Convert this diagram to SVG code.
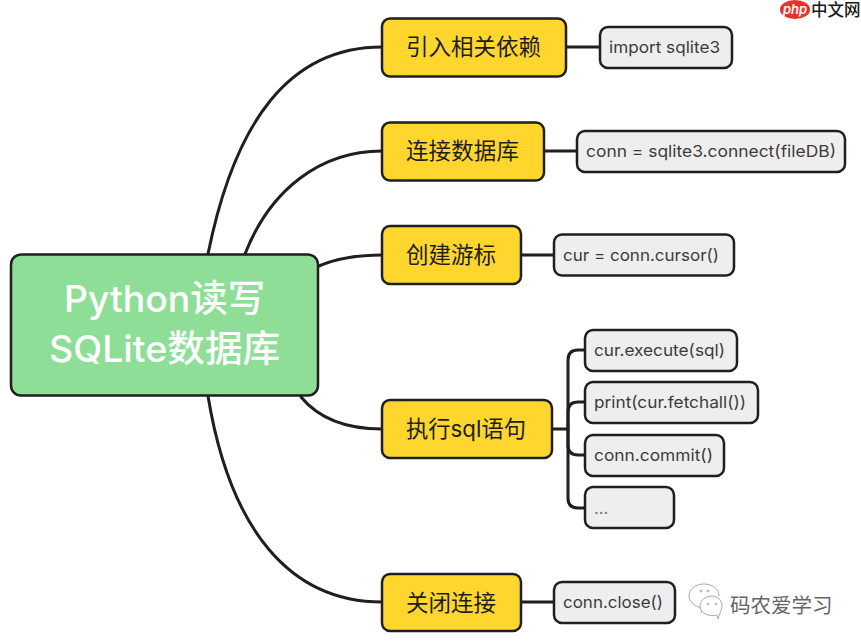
<svg xmlns="http://www.w3.org/2000/svg" width="861" height="644" viewBox="0 0 861 644">
<style>
text{font-family:"Inter","Noto Sans CJK SC",sans-serif}
.c{fill:none;stroke:#1f1f1f;stroke-width:3;stroke-linecap:round}
.r{fill:#8fde98;stroke:#1f1f1f;stroke-width:2.5}
.y{fill:#ffd62e;stroke:#1f1f1f;stroke-width:2.5}
.g{fill:#eeeeee;stroke:#1f1f1f;stroke-width:2.5}
.rt{font-size:37px;fill:#fff;font-weight:500}
.yt{font-size:22.500px;fill:#1d1d1d}
.gt{font-size:16.500px;fill:#3c3c3c}
</style>
<rect width="861" height="644" fill="#fff"/>
<g id="connectors">
<path class="c" d="M208 254C235 120 290 47 382 47"/>
<path class="c" d="M245 254C270 190 320 151 382 151"/>
<path class="c" d="M319 266C340 257 360 255 382 255"/>
<path class="c" d="M301 397C320 420 350 429 382 429"/>
<path class="c" d="M208 396C230 530 290 602 382 602"/>
<path class="c" d="M566 47H600"/>
<path class="c" d="M544 151H577"/>
<path class="c" d="M521 255H554"/>
<path class="c" d="M521 602H554"/>
<path class="c" d="M552 429H568"/>
<path class="c" d="M585 350H578Q568 350 568 360V498Q568 508 578 508H585"/>
<path class="c" d="M585 402H578Q568 402 568 412V445Q568 455 578 455H585"/>
</g>
<g id="root"><rect class="r" x="11" y="254.500" width="307" height="141" rx="10"/><text class="rt" x="64" y="312" textLength="201" lengthAdjust="spacingAndGlyphs">Python读写</text><text class="rt" x="49" y="362" textLength="231" lengthAdjust="spacingAndGlyphs">SQLite数据库</text></g>
<g id="n1"><rect class="y" x="382" y="18.500" width="184" height="58" rx="8"/><text class="yt" x="406" y="55" textLength="135">引入相关依赖</text></g>
<g id="n2"><rect class="y" x="382" y="122.500" width="162" height="58" rx="8"/><text class="yt" x="406" y="159" textLength="113">连接数据库</text></g>
<g id="n3"><rect class="y" x="382" y="226" width="139" height="58" rx="8"/><text class="yt" x="406" y="263" textLength="90">创建游标</text></g>
<g id="n4"><rect class="y" x="382" y="400" width="170" height="58" rx="8"/><text class="yt" x="406" y="437" textLength="120" lengthAdjust="spacingAndGlyphs">执行sql语句</text></g>
<g id="n5"><rect class="y" x="382" y="574" width="139" height="57" rx="8"/><text class="yt" x="406" y="611" textLength="90">关闭连接</text></g>
<g id="l1"><rect class="g" x="600" y="27" width="132" height="41" rx="8"/><text class="gt" x="609" y="53" textLength="111" lengthAdjust="spacingAndGlyphs">import sqlite3</text></g>
<g id="l2"><rect class="g" x="577" y="131" width="268" height="41" rx="8"/><text class="gt" x="586" y="157" textLength="250" lengthAdjust="spacingAndGlyphs">conn = sqlite3.connect(fileDB)</text></g>
<g id="l3"><rect class="g" x="554" y="234.500" width="180" height="41" rx="8"/><text class="gt" x="563" y="261" textLength="156" lengthAdjust="spacingAndGlyphs">cur = conn.cursor()</text></g>
<g id="l4"><rect class="g" x="585" y="330" width="152" height="41" rx="8"/><text class="gt" x="594" y="356" textLength="131" lengthAdjust="spacingAndGlyphs">cur.execute(sql)</text></g>
<g id="l5"><rect class="g" x="585" y="382" width="173" height="41" rx="8"/><text class="gt" x="594" y="408" textLength="152" lengthAdjust="spacingAndGlyphs">print(cur.fetchall())</text></g>
<g id="l6"><rect class="g" x="585" y="435" width="139" height="41" rx="8"/><text class="gt" x="594" y="461" textLength="119" lengthAdjust="spacingAndGlyphs">conn.commit()</text></g>
<g id="l7"><rect class="g" x="585" y="487" width="89" height="41" rx="8"/><text class="gt" x="594" y="514" fill-opacity="0.7">...</text></g>
<g id="l8"><rect class="g" x="554" y="582" width="121" height="41" rx="8"/><text class="gt" x="563" y="608" textLength="100" lengthAdjust="spacingAndGlyphs">conn.close()</text></g>
<g id="wm-php"><ellipse cx="795" cy="9.500" rx="15" ry="9.500" fill="#e8312a"/><text x="795" y="13.500" font-size="13" font-style="italic" font-weight="600" fill="#fff" text-anchor="middle">php</text><text x="811" y="15.500" font-size="16.500" font-weight="500" fill="#1a1a1a">中文网</text></g>
<g id="wm-wechat" fill="none" stroke="#a8a8a8" stroke-width="1"><path d="M701 613L703 609C694 606 689 601 689 596C689 589 696 584 704 584C712 584 719 589 719 596"/><path d="M718 619L717 615C710 617 700 614 700 606C700 600 706 596 712 596C718 596 722 601 722 606C722 610 720 612 718 619Z" fill="#fff"/><circle cx="701" cy="591" r="1"/><circle cx="708" cy="591" r="1"/><circle cx="708" cy="604" r="0.800"/><circle cx="716" cy="604" r="0.800"/><text x="730" y="613" font-size="20.500" fill="#666" stroke="none">码农爱学习</text></g>
</svg>
